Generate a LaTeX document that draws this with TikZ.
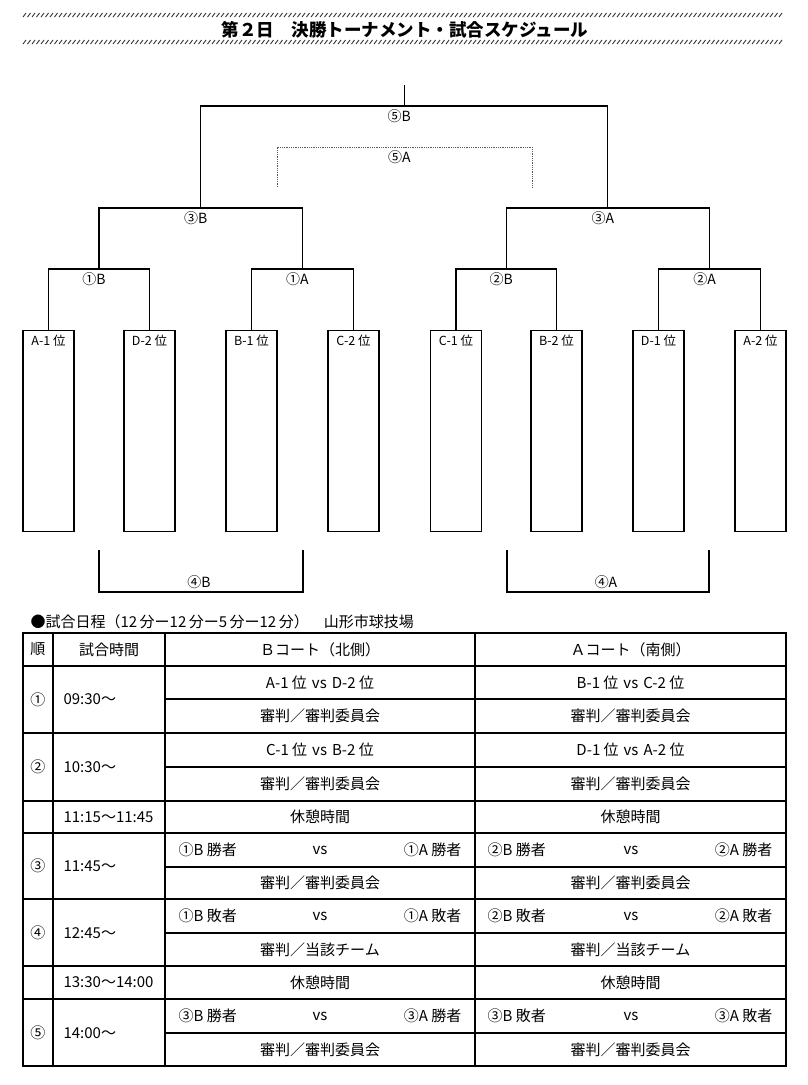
\documentclass[tikz,border=0pt]{standalone}
\usepackage{fontspec}
\setmainfont{Noto Sans CJK JP}
\begin{document}
\begin{tikzpicture}[x=1pt, y=-1pt, line width=1.1pt]
        \tikzstyle{every node}=[inner sep=0pt, font=\fontsize{15}{17}\selectfont]
        \tikzstyle{teambox}=[draw, minimum width=51pt, minimum height=201pt, anchor=north]
        \tikzstyle{teamname}=[anchor=north, yshift=-4pt, font=\fontsize{12.5}{14}\selectfont]
        \tikzstyle{roundlabel}=[anchor=north, yshift=-3pt, xshift=-5pt, font=\fontsize{14}{16}\selectfont]
        \tikzstyle{thirdlabel}=[anchor=south, yshift=3pt, xshift=-2pt, font=\fontsize{14}{16}\selectfont]
        \tikzstyle{hatchline}=[line width=0.9pt, black!80]
        \useasboundingbox (0,0) rectangle (808,1085);

% title with hatched rules
        \foreach \x in {23,27.5,...,782} {
            \draw[hatchline] (\x,17) -- ++(3,-4);
            \draw[hatchline] (\x,44) -- ++(3,-4);
        }
        \node[font=\bfseries\fontsize{17.5}{20}\selectfont] (title) at (405,30) {第２日　決勝トーナメント・試合スケジュール};

% first round boxes
        \foreach \n/\t/\x in {a1/A-1 位/48.5, d2/D-2 位/149.5, b1/B-1 位/251.5, c2/C-2 位/353.5, c1/C-1 位/456, b2/B-2 位/556.5, d1/D-1 位/658.5, a2/A-2 位/760.5} {
            \node[teambox] (\n) at (\x,330) {};
            \node[teamname] (\n name) at (\n.north) {\t};
        }

        \coordinate (j1B) at (99,269);
        \coordinate (j1A) at (302.5,269);
        \coordinate (j2B) at (506.25,269);
        \coordinate (j2A) at (709.5,269);
        \coordinate (j3B) at (200.75,208);
        \coordinate (j3A) at (607.9,208);
        \coordinate (j5B) at (404.3,106);
        \coordinate (top) at (404.3,85);

        \draw (a1.north) |- (j1B) -| (d2.north);
        \draw (b1.north) |- (j1A) -| (c2.north);
        \draw (c1.north) |- (j2B) -| (b2.north);
        \draw (d1.north) |- (j2A) -| (a2.north);
        \draw (j1B) |- (j3B) -| (j1A);
        \draw (j2B) |- (j3A) -| (j2A);
        \draw (j3B) |- (j5B) -| (j3A);
        \draw (j5B) -- (top);

        \node[roundlabel] (l1B) at (j1B) {①B};
        \node[roundlabel] (l1A) at (j1A) {①A};
        \node[roundlabel] (l2B) at (j2B) {②B};
        \node[roundlabel] (l2A) at (j2A) {②A};
        \node[roundlabel] (l3B) at (j3B) {③B};
        \node[roundlabel] (l3A) at (j3A) {③A};
        \node[roundlabel] (l5B) at (j5B) {⑤B};

% 3rd place match (dotted)
        \coordinate (j5A) at (404.5,147);
        \coordinate (f5Al) at (277,187);
        \coordinate (f5Ar) at (532,187);
        \draw[densely dotted, line width=0.8pt, black!65] (f5Al) |- (j5A) -| (f5Ar);
        \node[roundlabel] (l5A) at (j5A) {⑤A};

% losers brackets
        \coordinate (j4B) at (201,592);
        \coordinate (f4Bl) at (99,550);
        \coordinate (f4Br) at (303,550);
        \coordinate (j4A) at (608,592);
        \coordinate (f4Al) at (507,550);
        \coordinate (f4Ar) at (709,550);
        \draw (f4Bl) |- (j4B) -| (f4Br);
        \draw (f4Al) |- (j4A) -| (f4Ar);
        \node[thirdlabel] (l4B) at (j4B) {④B};
        \node[thirdlabel] (l4A) at (j4A) {④A};

% schedule table
        \node[anchor=west] (sched) at (30,622) {●試合日程（12\,分ー12\,分ー5\,分ー12\,分）　山形市球技場};

        \draw (23,633) rectangle (786,1066);
        \foreach \x in {53,165,475} \draw (\x,633) -- (\x,1066);
        \foreach \y in {666,733,801,833,899,966,999} \draw (23,\y) -- (786,\y);
        \foreach \y in {699,767,867,933,1033} \draw (165,\y) -- (786,\y);

        \node (h0) at (38,649.5) {順};
        \node (h1) at (109,649.5) {試合時間};
        \node (h2) at (320,649.5) {Ｂコート（北側）};
        \node (h3) at (630.5,649.5) {Ａコート（南側）};

        \foreach \r/\y/\t [count=\i] in {①/699.5/09:30～, ②/767/10:30～, ③/866/11:45～, ④/933/12:45～, ⑤/1033/14:00～} {
            \node (num\i) at (38,\y) {\r};
            \node[anchor=west] (time\i) at (63,\y) {\t};
        }
        \node[anchor=west] (rest1) at (63,817) {11:15～11:45};
        \node[anchor=west] (rest2) at (63,982.5) {13:30～14:00};

        \node (b1m) at (320,682.5) {A-1 位\hspace{5pt}vs\hspace{5pt}D-2 位};
        \node (a1m) at (630.5,682.5) {B-1 位\hspace{5pt}vs\hspace{5pt}C-2 位};
        \node (b2m) at (320,750) {C-1 位\hspace{5pt}vs\hspace{5pt}B-2 位};
        \node (a2m) at (630.5,750) {D-1 位\hspace{5pt}vs\hspace{5pt}A-2 位};

        \foreach \y/\t [count=\i] in {716/審判／審判委員会, 784/審判／審判委員会, 817/休憩時間, 883/審判／審判委員会, 949.5/審判／当該チーム, 982.5/休憩時間, 1049.5/審判／審判委員会} {
            \node (bref\i) at (320,\y) {\t};
            \node (aref\i) at (630.5,\y) {\t};
        }

        \foreach \y/\bl/\br/\al/\ar [count=\i] in {850/①B 勝者/①A 勝者/②B 勝者/②A 勝者, 916/①B 敗者/①A 敗者/②B 敗者/②A 敗者, 1016/③B 勝者/③A 勝者/③B 敗者/③A 敗者} {
            \node[anchor=west] (bl\i) at (178,\y) {\bl};
            \node (bvs\i) at (320,\y) {vs};
            \node[anchor=east] (br\i) at (462,\y) {\br};
            \node[anchor=west] (al\i) at (487,\y) {\al};
            \node (avs\i) at (631,\y) {vs};
            \node[anchor=east] (ar\i) at (773,\y) {\ar};
        }

    \end{tikzpicture}
\end{document}
